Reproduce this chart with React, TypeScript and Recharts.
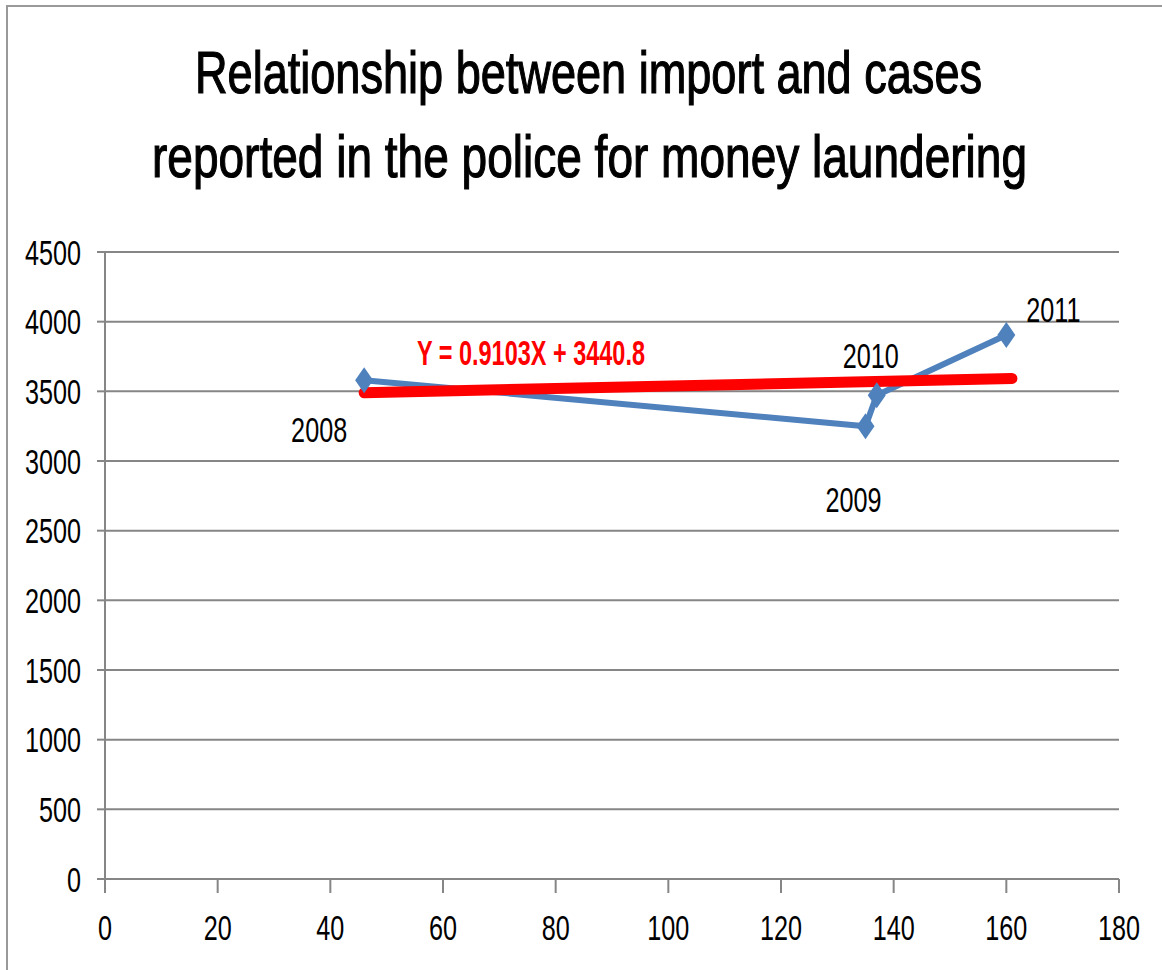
import React from "react";
import { ComposedChart, Line, XAxis, YAxis, CartesianGrid } from "recharts";

const years = ["2008", "2009", "2010", "2011"];
const importValues = [46, 135, 137, 160];
const cases = [3580, 3249, 3472, 3904];
const trendX = [46, 161];
const trendY = [3490, 3592];
const xTicks = [0, 20, 40, 60, 80, 100, 120, 140, 160, 180];
const yTicks = [0, 500, 1000, 1500, 2000, 2500, 3000, 3500, 4000, 4500];
const titleLines = [
  "Relationship between import and cases",
  "reported in the police for money laundering",
];
const equation = "Y = 0.9103X + 3440.8";

const series = importValues.map((x, i) => ({ x, y: cases[i], year: years[i] }));
const trend = trendX.map((x, i) => ({ x, y: trendY[i] }));

const FONT = "'Liberation Sans', Arial, sans-serif";
const SX = 0.72;
const TITLE_SIZE = 44;
const TITLE_SY = 60 / 44;

const labelOffsets = [
  [-45, 62],
  [-12, 86],
  [-6, -27],
  [47, -13],
];

const YTick = (props: any) => {
  const { x, y, payload } = props;
  return (
    <text
      transform={`translate(${x},${y + 12.5}) scale(${SX},1)`}
      textAnchor="end"
      fontFamily={FONT}
      fontSize={35}
      fill="#000"
    >
      {payload.value}
    </text>
  );
};

const XTick = (props: any) => {
  const { x, payload } = props;
  return (
    <text
      transform={`translate(${x},940) scale(${SX},1)`}
      textAnchor="middle"
      fontFamily={FONT}
      fontSize={35}
      fill="#000"
    >
      {payload.value}
    </text>
  );
};

const Diamond = (props: any) => {
  const { cx, cy } = props;
  if (cx == null || cy == null) return null;
  return (
    <path
      d={`M${cx},${cy - 13} L${cx + 9},${cy} L${cx},${cy + 13} L${cx - 9},${cy} Z`}
      fill="#4F81BD"
    />
  );
};

const YearLabel = (props: any) => {
  const { x, y, index } = props;
  const off = labelOffsets[index] || [0, 0];
  return (
    <text
      transform={`translate(${x + off[0]},${y + off[1]}) scale(${SX},1)`}
      textAnchor="middle"
      fontFamily={FONT}
      fontSize={35}
      fill="#000"
    >
      {years[index]}
    </text>
  );
};

export default function App() {
  return (
    <div style={{ position: "absolute", left: 0, top: 0, width: 1162, height: 970, background: "#fff" }}>
      <ComposedChart
        width={1162}
        height={970}
        data={series}
        margin={{ top: 252, right: 43, left: 24, bottom: 31 }}
      >
        <CartesianGrid vertical={false} stroke="#868686" strokeWidth={2} />
        <XAxis
          type="number"
          dataKey="x"
          domain={[0, 180]}
          ticks={xTicks}
          interval={0}
          tickSize={14}
          tickMargin={0}
          height={60}
          stroke="#868686"
          strokeWidth={2}
          tick={<XTick />}
          allowDataOverflow
        />
        <YAxis
          type="number"
          domain={[0, 4500]}
          ticks={yTicks}
          interval={0}
          tickSize={8}
          tickMargin={16}
          width={81}
          stroke="#868686"
          strokeWidth={2}
          tick={<YTick />}
        />
        <Line
          data={series}
          dataKey="y"
          type="linear"
          stroke="#4F81BD"
          strokeWidth={6}
          dot={<Diamond />}
          activeDot={false}
          label={<YearLabel />}
          isAnimationActive={false}
        />
        <Line
          data={trend}
          dataKey="y"
          type="linear"
          stroke="#FF0000"
          strokeWidth={11}
          strokeLinecap="round"
          dot={false}
          activeDot={false}
          isAnimationActive={false}
        />
      </ComposedChart>
      <svg
        width={1162}
        height={970}
        style={{ position: "absolute", left: 0, top: 0, pointerEvents: "none" }}
      >
        <line x1={6} y1={6} x2={1162} y2={6} stroke="#999" strokeWidth={2} />
        <line x1={7} y1={5} x2={7} y2={970} stroke="#999" strokeWidth={2} />
        <g transform={`translate(195,93) scale(1,${TITLE_SY})`}>
          <text
            x={0}
            y={0}
            textLength={787}
            lengthAdjust="spacingAndGlyphs"
            fontFamily={FONT}
            fontSize={TITLE_SIZE}
            fill="#000"
            stroke="#000"
            strokeWidth={0.9}
          >
            {titleLines[0]}
          </text>
        </g>
        <g transform={`translate(152,177) scale(1,${TITLE_SY})`}>
          <text
            x={0}
            y={0}
            textLength={875}
            lengthAdjust="spacingAndGlyphs"
            fontFamily={FONT}
            fontSize={TITLE_SIZE}
            fill="#000"
            stroke="#000"
            strokeWidth={0.9}
          >
            {titleLines[1]}
          </text>
        </g>
        <text
          x={417}
          y={365}
          textLength={228}
          lengthAdjust="spacingAndGlyphs"
          fontFamily={FONT}
          fontWeight="bold"
          fontSize={35}
          fill="#FF0000"
        >
          {equation}
        </text>
      </svg>
    </div>
  );
}
